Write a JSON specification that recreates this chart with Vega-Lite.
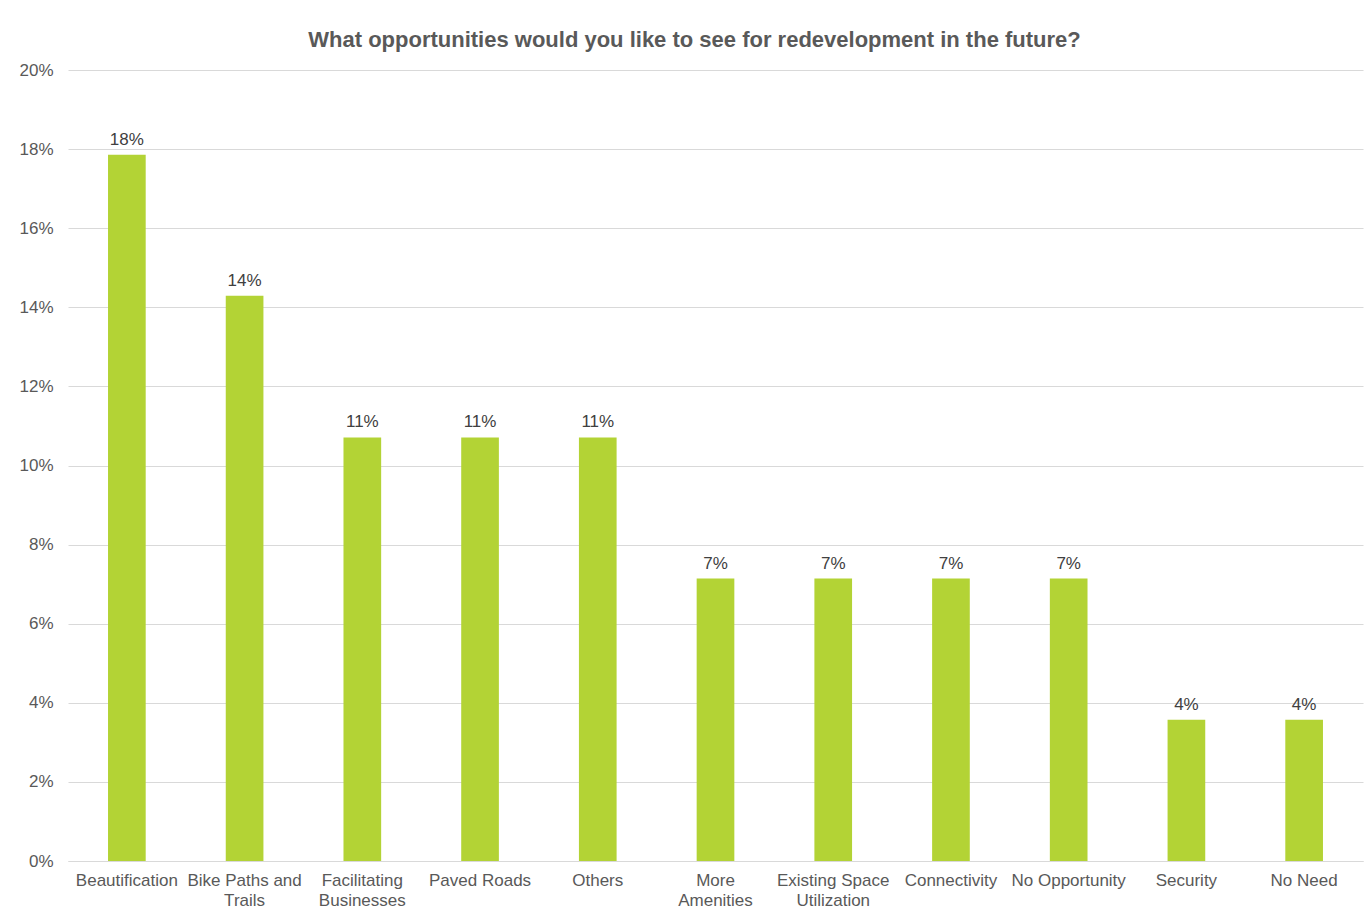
{
  "$schema": "https://vega.github.io/schema/vega-lite/v6.json",
  "width": 1295,
  "height": 791,
  "autosize": {"type": "none"},
  "padding": {"left": 68, "top": 70, "right": 6, "bottom": 52},
  "background": "white",
  "title": {
    "text": "What opportunities would you like to see for redevelopment in the future?",
    "font": "Liberation Sans",
    "fontSize": 22,
    "fontWeight": "bold",
    "color": "#595959",
    "anchor": "middle",
    "dx": -21,
    "offset": 9
  },
  "data": {
    "values": [
      {"category": "Beautification", "share": 0.1786, "label": "18%"},
      {"category": "Bike Paths and Trails", "share": 0.1429, "label": "14%"},
      {"category": "Facilitating Businesses", "share": 0.1071, "label": "11%"},
      {"category": "Paved Roads", "share": 0.1071, "label": "11%"},
      {"category": "Others", "share": 0.1071, "label": "11%"},
      {"category": "More Amenities", "share": 0.0714, "label": "7%"},
      {"category": "Existing Space Utilization", "share": 0.0714, "label": "7%"},
      {"category": "Connectivity", "share": 0.0714, "label": "7%"},
      {"category": "No Opportunity", "share": 0.0714, "label": "7%"},
      {"category": "Security", "share": 0.0357, "label": "4%"},
      {"category": "No Need", "share": 0.0357, "label": "4%"}
    ]
  },
  "encoding": {
    "x": {
      "field": "category",
      "type": "nominal",
      "sort": null,
      "title": null,
      "scale": {"paddingInner": 0.68, "paddingOuter": 0.34},
      "axis": {
        "labelAngle": 0,
        "labelFont": "Liberation Sans",
        "labelFontSize": 17,
        "labelColor": "#595959",
        "labelPadding": 11,
        "labelLineHeight": 20,
        "labelLimit": 200,
        "ticks": false,
        "domainColor": "#d9d9d9",
        "labelExpr": "datum.label == 'Bike Paths and Trails' ? ['Bike Paths and', 'Trails'] : datum.label == 'Facilitating Businesses' ? ['Facilitating', 'Businesses'] : datum.label == 'More Amenities' ? ['More', 'Amenities'] : datum.label == 'Existing Space Utilization' ? ['Existing Space', 'Utilization'] : datum.label"
      }
    },
    "y": {
      "field": "share",
      "type": "quantitative",
      "title": null,
      "scale": {"domain": [0, 0.2], "nice": false},
      "axis": {
        "format": ".0%",
        "values": [0, 0.02, 0.04, 0.06, 0.08, 0.1, 0.12, 0.14, 0.16, 0.18, 0.2],
        "labelFont": "Liberation Sans",
        "labelFontSize": 17,
        "labelColor": "#595959",
        "labelPadding": 15,
        "ticks": false,
        "domain": false,
        "gridColor": "#d9d9d9",
        "gridWidth": 1
      }
    }
  },
  "layer": [
    {"mark": {"type": "bar", "color": "#b3d335"}},
    {
      "mark": {
        "type": "text",
        "font": "Liberation Sans",
        "fontSize": 17,
        "color": "#404040",
        "baseline": "bottom",
        "dy": -6
      },
      "encoding": {"text": {"field": "label"}}
    }
  ],
  "config": {"view": {"stroke": null}}
}
